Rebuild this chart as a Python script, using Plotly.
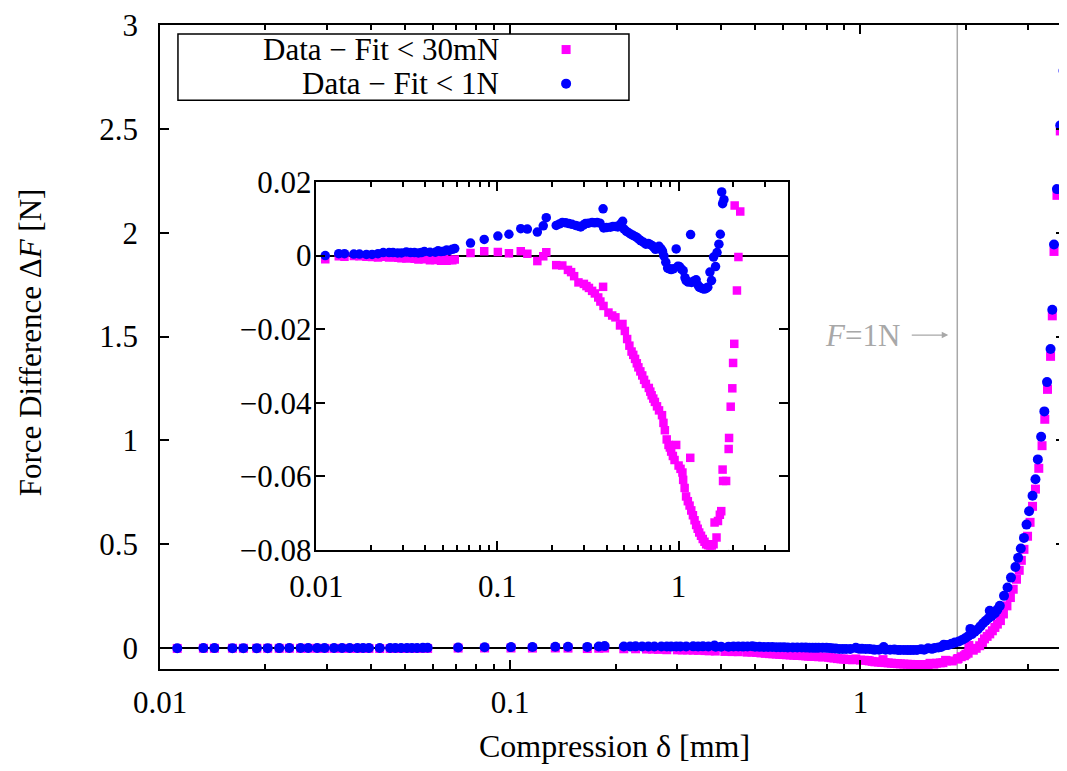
import plotly.graph_objects as go

# ---------------- data ----------------
# shared low-compression positions (mm)
X_LOW = [0.0112, 0.0133, 0.0143, 0.0161, 0.0173, 0.0189, 0.0203, 0.0219, 0.0234, 0.0252,
         0.0265, 0.0281, 0.0295, 0.0314, 0.0331, 0.0348, 0.0366, 0.0380, 0.0395, 0.0424,
         0.0454, 0.0470, 0.0488, 0.0507, 0.0524, 0.0542, 0.0563, 0.0581, 0.0710, 0.0845,
         0.1005, 0.1157, 0.1345, 0.1462, 0.1660, 0.1790, 0.1860]

BLUE_Y_LOW = [0.0000, 0.0005, 0.0005, 0.0004, 0.0004, 0.0003, 0.0003, 0.0005, 0.0008, 0.0008,
              0.0008, 0.0007, 0.0007, 0.0010, 0.0008, 0.0008, 0.0007, 0.0008, 0.0011, 0.0009,
              0.0009, 0.0013, 0.0011, 0.0012, 0.0015, 0.0014, 0.0017, 0.0019, 0.0034, 0.0044,
              0.0053, 0.0058, 0.0073, 0.0072, 0.0064, 0.0081, 0.0103]

MAGENTA_Y_LOW = [-0.0010, -0.0002, -0.0003, -0.0001, -0.0002, -0.0003, -0.0004, -0.0005, -0.0003, -0.0005,
                 -0.0004, -0.0006, -0.0007, -0.0008, -0.0006, -0.0009, -0.0011, -0.0008, -0.0010, -0.0013,
                 -0.0012, -0.0011, -0.0014, -0.0010, -0.0014, -0.0012, -0.0013, -0.0011, 0.0007, 0.0012,
                 0.0010, 0.0006, 0.0012, 0.0005, -0.0015, -0.0002, 0.0009]

BLUE_X_HIGH = [0.211, 0.220, 0.228, 0.238, 0.248, 0.258, 0.270, 0.280, 0.288, 0.298,
               0.306, 0.318, 0.333, 0.344, 0.355, 0.368, 0.383, 0.386, 0.400, 0.420,
               0.434, 0.448, 0.462, 0.476, 0.491, 0.500, 0.515, 0.530, 0.545, 0.560,
               0.575, 0.590, 0.605, 0.620, 0.641, 0.660, 0.680, 0.698, 0.715, 0.730,
               0.745, 0.760, 0.780, 0.800, 0.815, 0.830, 0.850, 0.870, 0.890, 0.910,
               0.935, 0.970, 0.990, 1.010, 1.035, 1.060, 1.085, 1.100, 1.130, 1.165,
               1.180, 1.215, 1.250, 1.280, 1.300, 1.330, 1.360, 1.390, 1.420, 1.450,
               1.490, 1.520, 1.560, 1.600, 1.630, 1.670, 1.700, 1.730, 1.750, 1.780,
               1.820, 1.860, 1.910, 1.950, 1.990, 2.030, 2.060, 2.080, 2.120, 2.160,
               2.200, 2.240, 2.280, 2.320, 2.340, 2.370, 2.420, 2.460, 2.500, 2.570,
               2.630, 2.690, 2.770, 2.820, 2.870, 2.930, 2.980, 3.030, 3.100, 3.160,
               3.210, 3.280, 3.350, 3.410, 3.490, 3.530, 3.570, 3.640, 3.720, 3.800]

BLUE_Y_HIGH = [0.0082, 0.0086, 0.0090, 0.0089, 0.0087, 0.0085, 0.0082, 0.0080, 0.0078, 0.0083,
               0.0087, 0.0088, 0.0090, 0.0089, 0.0090, 0.0088, 0.0127, 0.0075, 0.0076, 0.0077,
               0.0079, 0.0079, 0.0078, 0.0085, 0.0093, 0.0072, 0.0066, 0.0062, 0.0058, 0.0055,
               0.0052, 0.0049, 0.0044, 0.0040, 0.0036, 0.0031, 0.0033, 0.0030, 0.0027, 0.0022,
               0.0017, 0.0021, 0.0025, 0.0018, 0.0012, -0.0001, -0.0018, -0.0034, -0.0036, -0.0038,
               -0.0036, 0.0018, -0.0029, -0.0030, -0.0036, -0.0041, -0.0060, -0.0068, -0.0072, 0.0057,
               -0.0073, -0.0069, -0.0066, -0.0080, -0.0086, -0.0088, -0.0090, -0.0091, -0.0089, -0.0086,
               -0.0045, -0.0068, -0.0004, -0.0030, 0.0008, 0.0031, 0.0058, 0.0173, 0.0141, 0.0152,
               0.022, 0.027, 0.032, 0.040, 0.048, 0.058, 0.093, 0.068, 0.079, 0.090,
               0.105, 0.120, 0.132, 0.144, 0.180, 0.155, 0.168, 0.186, 0.204, 0.252,
               0.292, 0.340, 0.391, 0.435, 0.480, 0.531, 0.595, 0.659, 0.734, 0.813,
               0.909, 1.018, 1.140, 1.281, 1.440, 1.629, 1.943, 2.210, 2.517, 2.780]

MAGENTA_X_HIGH = [0.211, 0.228, 0.245, 0.255, 0.265, 0.280, 0.300, 0.310, 0.320, 0.333,
                  0.345, 0.360, 0.370, 0.383, 0.385, 0.410, 0.430, 0.448, 0.475, 0.490,
                  0.505, 0.520, 0.535, 0.550, 0.562, 0.575, 0.588, 0.600, 0.615, 0.630,
                  0.645, 0.660, 0.685, 0.698, 0.710, 0.725, 0.740, 0.760, 0.780, 0.810,
                  0.825, 0.840, 0.860, 0.880, 0.895, 0.910, 0.930, 0.950, 0.970, 1.000,
                  1.025, 1.050, 1.060, 1.080, 1.100, 1.125, 1.150, 1.160, 1.175, 1.200,
                  1.225, 1.250, 1.275, 1.300, 1.330, 1.360, 1.390, 1.420, 1.455, 1.490,
                  1.525, 1.560, 1.580, 1.620, 1.650, 1.690, 1.720, 1.750, 1.760, 1.830,
                  1.890, 1.900, 1.940, 1.980, 2.000, 2.030, 2.040, 2.100, 2.140, 2.190,
                  2.230, 2.260, 2.300, 2.340, 2.380, 2.420, 2.460, 2.510, 2.560, 2.620,
                  2.680, 2.730, 2.790, 2.840, 2.880, 2.930, 3.000, 3.050, 3.100, 3.160,
                  3.230, 3.300, 3.360, 3.420, 3.490, 3.530, 3.570, 3.640, 3.720, 3.800]

MAGENTA_Y_HIGH = [-0.0026, -0.0027, -0.0039, -0.0045, -0.0056, -0.0073, -0.0077, -0.0083, -0.0088, -0.0096,
                  -0.0103, -0.0114, -0.0125, -0.0085, -0.0137, -0.0155, -0.0163, -0.0168, -0.0190, -0.0186,
                  -0.0205, -0.0227, -0.0245, -0.0261, -0.0270, -0.0281, -0.0293, -0.0304, -0.0315, -0.0326,
                  -0.0338, -0.0349, -0.0360, -0.0370, -0.0380, -0.0389, -0.0398, -0.0410, -0.0421, -0.0434,
                  -0.0455, -0.0475, -0.0500, -0.0515, -0.0522, -0.0533, -0.0545, -0.0556, -0.0515, -0.0571,
                  -0.0580, -0.0590, -0.0610, -0.0632, -0.0655, -0.0668, -0.0680, -0.0550, -0.0693, -0.0706,
                  -0.0720, -0.0733, -0.0743, -0.0753, -0.0762, -0.0771, -0.0778, -0.0785, -0.0788, -0.0789,
                  -0.0790, -0.0785, -0.0726, -0.0767, -0.0722, -0.0705, -0.0695, -0.0582, -0.0613, -0.0613,
                  -0.0526, -0.0496, -0.0411, -0.0361, -0.0292, -0.0240, 0.0136, -0.0095, -0.0004, 0.0120,
                  0.028, 0.045, 0.057, 0.069, 0.084, 0.100, 0.116, 0.133, 0.165, 0.204,
                  0.244, 0.284, 0.332, 0.375, 0.423, 0.476, 0.539, 0.606, 0.683, 0.766,
                  0.866, 0.975, 1.102, 1.246, 1.405, 1.600, 1.910, 2.180, 2.490, 2.750]

F1N_DELTA = 1.89          # compression at which F = 1 N

MAIN_X_TICKS = [0.01, 0.1, 1]
MAIN_X_TICKTEXT = ["0.01", "0.1", "1"]
MINOR_X_TICKS = [0.02, 0.03, 0.04, 0.05, 0.06, 0.07, 0.08, 0.09,
                 0.2, 0.3, 0.4, 0.5, 0.6, 0.7, 0.8, 0.9, 2, 3, 4]
MAIN_Y_TICKS = [0, 0.5, 1, 1.5, 2, 2.5, 3]
MAIN_Y_TICKTEXT = ["0", "0.5", "1", "1.5", "2", "2.5", "3"]
INSET_Y_TICKS = [-0.08, -0.06, -0.04, -0.02, 0, 0.02]
INSET_Y_TICKTEXT = ["\u22120.08", "\u22120.06", "\u22120.04", "\u22120.02", "0", "0.02"]

LABEL_30MN = "Data \u2212 Fit &lt; 30mN"
LABEL_1N = "Data \u2212 Fit &lt; 1N"

# ---------------- styling ----------------
FONT = "Liberation Serif"
FS = 31
MAGENTA = "#FF00FF"
BLUE = "#0000FF"
GREY = "#A8A8A8"

# The page adds an 8 px body margin, so the figure is shrunk by that amount.
OFF = 8
WIN_W, WIN_H = 1067, 771
PLOT_L, PLOT_R, PLOT_T, PLOT_B = 160, 1067, 21, 669      # plot frame in window pixels
PW, PH = PLOT_R - PLOT_L, PLOT_B - PLOT_T
DECADE = 351.0                                          # pixels per decade on main x axis


def px_x(p):
    return (p - PLOT_L) / PW


def px_y(p):
    return (PLOT_B - p) / PH


magenta_x = X_LOW + MAGENTA_X_HIGH
magenta_y = MAGENTA_Y_LOW + MAGENTA_Y_HIGH
blue_x = X_LOW + BLUE_X_HIGH
blue_y = BLUE_Y_LOW + BLUE_Y_HIGH

fig = go.Figure()


def add_series(xs, ys, xa, ya, color, symbol, size):
    fig.add_trace(go.Scatter(
        x=xs, y=ys, mode="markers", xaxis=xa, yaxis=ya,
        marker=dict(color=color, symbol=symbol, size=size, line=dict(width=0)),
        showlegend=False, hoverinfo="skip"))


add_series(magenta_x, magenta_y, "x", "y", MAGENTA, "square", 9)
add_series(blue_x, blue_y, "x", "y", BLUE, "circle", 10)
add_series(magenta_x, magenta_y, "x2", "y2", MAGENTA, "square", 8.5)
add_series(blue_x, blue_y, "x2", "y2", BLUE, "circle", 9.5)

axis_common = dict(showline=True, linecolor="black", linewidth=1.5, mirror="ticks",
                   ticks="inside", tickcolor="black", tickwidth=1.5, ticklen=9,
                   showgrid=False, ticklabeloverflow="allow",
                   tickfont=dict(family=FONT, size=FS, color="black"))

minor_x = dict(ticks="inside", ticklen=5, tickwidth=1.5, tickcolor="black",
               tickvals=MINOR_X_TICKS, showgrid=False)

fig.update_layout(
    width=WIN_W - OFF, height=WIN_H - OFF,
    margin=dict(l=PLOT_L - OFF, r=WIN_W - PLOT_R, t=PLOT_T - OFF, b=WIN_H - PLOT_B, pad=0),
    paper_bgcolor="white", plot_bgcolor="white",
    font=dict(family=FONT, size=FS, color="black"),
    xaxis=dict(type="log", range=[-2, -2 + PW / DECADE],
               domain=[0, 1], anchor="y", tickvals=MAIN_X_TICKS, ticktext=MAIN_X_TICKTEXT,
               zeroline=False, minor=minor_x, ticklabelstandoff=5, **axis_common),
    yaxis=dict(range=[-0.1, 3], domain=[0, 1], anchor="x",
               tickvals=MAIN_Y_TICKS, ticktext=MAIN_Y_TICKTEXT,
               zeroline=True, zerolinecolor="black", zerolinewidth=1.5,
               ticklabelstandoff=14, **axis_common),
    xaxis2=dict(type="log", range=[-2, 0.602],
                domain=[px_x(316.7), px_x(789)], anchor="y2",
                tickvals=MAIN_X_TICKS, ticktext=MAIN_X_TICKTEXT,
                zeroline=False, minor=minor_x, ticklabelstandoff=8, **axis_common),
    yaxis2=dict(range=[-0.08, 0.02], domain=[px_y(549), px_y(179)], anchor="x2",
                tickvals=INSET_Y_TICKS, ticktext=INSET_Y_TICKTEXT,
                zeroline=True, zerolinecolor="black", zerolinewidth=1.5,
                ticklabelstandoff=-3, **axis_common),
)

shapes = [
    dict(type="line", xref="x", yref="paper", x0=F1N_DELTA, x1=F1N_DELTA,
         y0=0, y1=1, line=dict(color=GREY, width=1.5), layer="below"),
    dict(type="line", xref="x2", yref="y2 domain", x0=F1N_DELTA, x1=F1N_DELTA,
         y0=0, y1=1, line=dict(color=GREY, width=1.5), layer="below"),
    # key box
    dict(type="rect", xref="paper", yref="paper", x0=px_x(178), x1=px_x(630),
         y0=px_y(96.7), y1=px_y(30), line=dict(color="black", width=1.5), fillcolor="white",
         layer="above"),
    dict(type="rect", xref="paper", yref="paper", xsizemode="pixel", ysizemode="pixel",
         xanchor=px_x(567), yanchor=px_y(45.7), x0=-4.5, x1=4.5, y0=-4.5, y1=4.5,
         fillcolor=MAGENTA, line=dict(width=0), layer="above"),
    dict(type="circle", xref="paper", yref="paper", xsizemode="pixel", ysizemode="pixel",
         xanchor=px_x(567), yanchor=px_y(80), x0=-5, x1=5, y0=-5, y1=5,
         fillcolor=BLUE, line=dict(width=0), layer="above"),
]
fig.update_layout(shapes=shapes)

annotations = [
    dict(text=LABEL_30MN, xref="paper", yref="paper", x=px_x(502), y=px_y(45.7),
         xanchor="right", yanchor="middle", showarrow=False, font=dict(family=FONT, size=FS)),
    dict(text=LABEL_1N, xref="paper", yref="paper", x=px_x(502), y=px_y(80),
         xanchor="right", yanchor="middle", showarrow=False, font=dict(family=FONT, size=FS)),
    dict(text="Compression \u03b4 [mm]", xref="paper", yref="paper", x=px_x(616), y=px_y(746),
         xanchor="center", yanchor="middle", showarrow=False, font=dict(family=FONT, size=32)),
    dict(text="Force Difference \u0394<i>F</i> [N]", xref="paper", yref="paper",
         x=px_x(30), y=px_y(340), xanchor="center", yanchor="middle", textangle=-90,
         showarrow=False, font=dict(family=FONT, size=FS)),
    dict(text="<i>F</i>=1N", xref="paper", yref="paper", x=px_x(904), y=px_y(333),
         xanchor="right", yanchor="middle", showarrow=False,
         font=dict(family=FONT, size=FS, color=GREY)),
    dict(text="", xref="paper", yref="paper", x=px_x(950), y=px_y(333),
         ax=-38, ay=0, showarrow=True, arrowhead=2, arrowsize=1, arrowwidth=1.3,
         arrowcolor=GREY),
]
fig.update_layout(annotations=annotations)

fig.write_html("out.html")
